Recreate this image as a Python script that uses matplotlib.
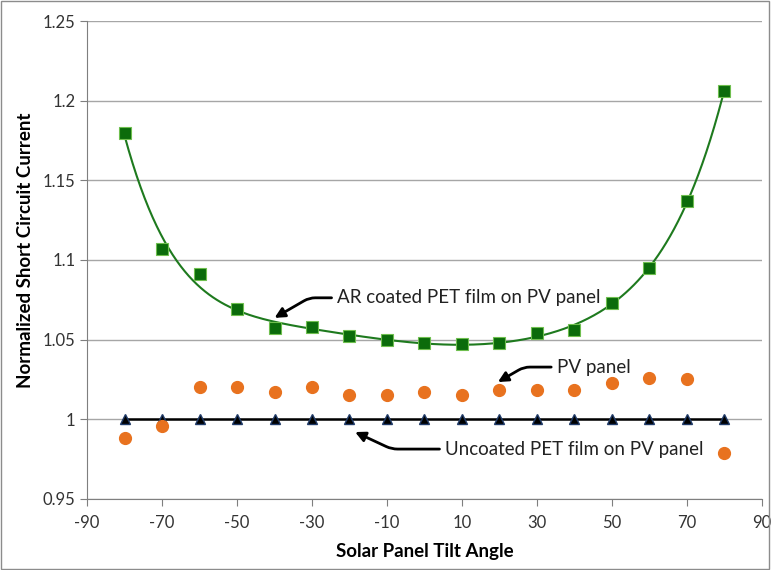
import numpy as np
import matplotlib
matplotlib.use("Agg")
import matplotlib.pyplot as plt
from matplotlib.patches import Rectangle

plt.rcParams['font.family'] = ['Lato', 'DejaVu Sans']
plt.rcParams['axes.unicode_minus'] = False

angles = [-80, -70, -60, -50, -40, -30, -20, -10, 0, 10, 20, 30, 40, 50, 60, 70, 80]
ar_coated = [1.180, 1.107, 1.091, 1.069, 1.057, 1.058, 1.052, 1.050, 1.048,
             1.047, 1.048, 1.054, 1.056, 1.073, 1.095, 1.137, 1.206]
pv_panel = [0.988, 0.996, 1.020, 1.020, 1.017, 1.020, 1.015, 1.015, 1.017,
            1.015, 1.018, 1.018, 1.018, 1.023, 1.026, 1.025, 0.979]
uncoated = [1.0] * 17

fig = plt.figure(figsize=(7.71, 5.70), dpi=100)
ax = fig.add_axes([0.113, 0.125, 0.875, 0.838])

# polynomial trend line for the AR coated series
coef = np.polyfit(angles, ar_coated, 6)
xs = np.linspace(-80, 80, 300)
ax.plot(xs, np.polyval(coef, xs), color='#1e7a1e', lw=1.5, zorder=2)
ax.plot(angles, ar_coated, 's', color='#0b6b0b', ms=8, mec='#6fbf4f', mew=0.8, zorder=3)
ax.plot(angles, uncoated, '-^', color='black', ms=7, lw=1.8, mfc='black', mec='#1f3a68', zorder=3)
ax.plot(angles, pv_panel, 'o', color='#e8721f', ms=8.5, mec='#e8721f', zorder=3)

ax.set_xlim(-90, 90)
ax.set_ylim(0.95, 1.25)
ax.set_xticks(range(-90, 91, 20))
ax.set_yticks([0.95, 1.0, 1.05, 1.1, 1.15, 1.2, 1.25])
ax.set_yticklabels(['0.95', '1', '1.05', '1.1', '1.15', '1.2', '1.25'])
ax.yaxis.grid(True, color='#a6a6a6', lw=1)
ax.set_axisbelow(True)
for s in ['top', 'right']:
    ax.spines[s].set_visible(False)
for s in ['left', 'bottom']:
    ax.spines[s].set_color('#7f7f7f')
ax.tick_params(axis='both', direction='out', length=5, color='#7f7f7f',
               labelsize=12, labelcolor='#333333')
ax.tick_params(axis='x', pad=7)
ax.set_xlabel('Solar Panel Tilt Angle', fontsize=13.5, fontweight='bold', va='center')
ax.set_ylabel('Normalized Short Circuit Current', fontsize=13.5, fontweight='bold', va='center')
ax.xaxis.set_label_coords(0.5, -0.111)
ax.yaxis.set_label_coords(-0.092, 0.52)

arrow = dict(arrowstyle='-|>', color='black', lw=2, mutation_scale=15,
             shrinkA=2, shrinkB=0)
ax.annotate('AR coated PET film on PV panel', xy=(-40, 1.0636), xytext=(-23.3, 1.0762),
            fontsize=13.5, va='center', color='#222222',
            arrowprops=dict(connectionstyle='angle,angleA=0,angleB=30,rad=6', **arrow))
ax.annotate('PV panel', xy=(19.6, 1.0233), xytext=(35.3, 1.0327),
            fontsize=13.5, va='center', color='#222222',
            arrowprops=dict(connectionstyle='angle,angleA=0,angleB=30,rad=6', **arrow))
ax.annotate('Uncoated PET film on PV panel', xy=(-18.5, 0.9919), xytext=(5.5, 0.9812),
            fontsize=13.5, va='center', color='#222222',
            arrowprops=dict(connectionstyle='angle,angleA=0,angleB=-25,rad=6', **arrow))

fig.patches.append(Rectangle((0.001, 0.001), 0.997, 0.997, transform=fig.transFigure,
                             fill=False, edgecolor='#8c8c8c', lw=1))

fig.savefig('out.png', dpi=100)
